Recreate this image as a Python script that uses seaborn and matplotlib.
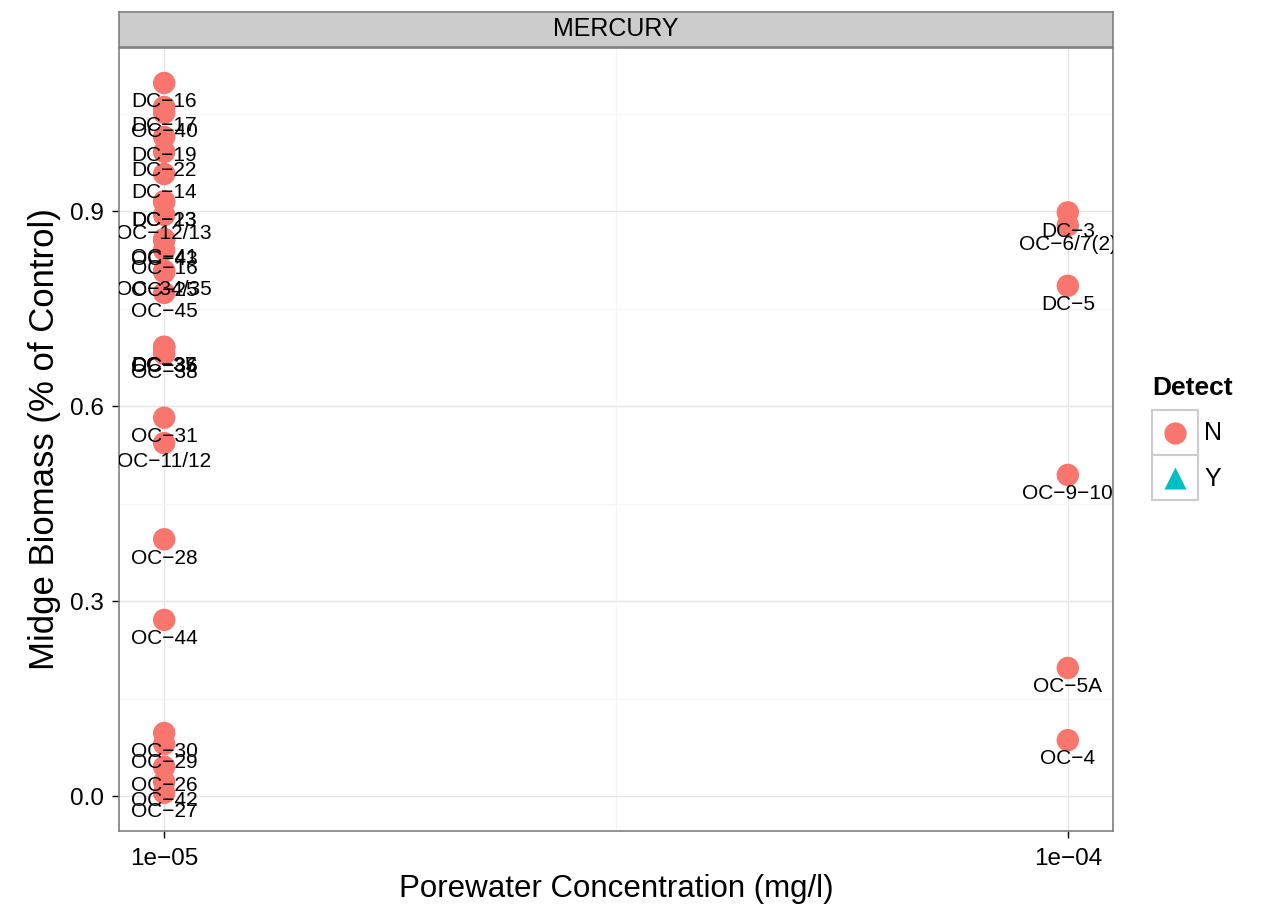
import matplotlib
matplotlib.use("Agg")
import matplotlib.pyplot as plt
import matplotlib.ticker as tic
from matplotlib.patches import Rectangle
from matplotlib.lines import Line2D
import seaborn as sns
import pandas as pd

# station labels, porewater concentration (mg/l), midge biomass, detect flag
stations = ["DC-16", "DC-17", "OC-40", "DC-19", "DC-22", "DC-14", "DC-23", "DC-13",
            "OC-12/13", "OC-41", "OC-43", "OC-16", "OC-34/35", "OC-25", "OC-45",
            "DC-35", "DC-37", "OC-36", "OC-38", "OC-31", "OC-11/12", "OC-28", "OC-44",
            "OC-30", "OC-29", "OC-26", "OC-42", "OC-27",
            "DC-3", "OC-6/7(2)", "DC-5", "OC-9-10", "OC-5A", "OC-4"]
concentration = [1e-05] * 28 + [1e-04] * 6
biomass = [1.097, 1.060, 1.051, 1.014, 0.991, 0.957, 0.915, 0.914,
           0.894, 0.857, 0.855, 0.840, 0.808, 0.806, 0.774,
           0.691, 0.691, 0.689, 0.680, 0.582, 0.543, 0.395, 0.271,
           0.097, 0.080, 0.045, 0.022, 0.005,
           0.898, 0.878, 0.785, 0.494, 0.197, 0.086]
detect = ["N"] * 34
detect_levels = ["N", "Y"]
detect_colors = {"N": "#F8766D", "Y": "#00BFC4"}
detect_markers = {"N": "o", "Y": "^"}

df = pd.DataFrame({"Station": stations, "Conc": concentration,
                   "Biomass": biomass, "Detect": detect})

sns.set_style("white")
plt.rcParams["font.family"] = ["Liberation Sans", "DejaVu Sans"]
plt.rcParams["text.color"] = "black"
plt.rcParams["axes.labelcolor"] = "black"

W, H = 1263, 914
fig = plt.figure(figsize=(W / 100, H / 100), dpi=100)

# panel position in pixels
left, right, top, bottom = 119, 1113, 48, 831
ax = fig.add_axes([left / W, 1 - bottom / H, (right - left) / W, (bottom - top) / H])

sns.scatterplot(data=df, x="Conc", y="Biomass", hue="Detect", style="Detect",
                palette=detect_colors, markers=detect_markers, s=260,
                edgecolor="none", legend=False, ax=ax, zorder=3)

# labels under each point, clipped to the panel
for _, row in df.iterrows():
    ax.annotate(row["Station"].replace("-", "\u2212"), (row["Conc"], row["Biomass"]),
                xytext=(0, -13.5), textcoords="offset points", ha="center", va="center",
                fontsize=15, color="black", annotation_clip=False, clip_on=True, zorder=4)

ax.set_xscale("log")
ax.set_xlim(10 ** -5.05, 10 ** -3.95)
ax.set_ylim(-0.0538, 1.1508)
ax.xaxis.set_major_locator(tic.FixedLocator([1e-05, 1e-04]))
ax.xaxis.set_minor_locator(tic.FixedLocator([10 ** -4.5]))
ax.xaxis.set_major_formatter(tic.FixedFormatter(["1e\u221205", "1e\u221204"]))
ax.xaxis.set_minor_formatter(tic.NullFormatter())
ax.yaxis.set_major_locator(tic.FixedLocator([0.0, 0.3, 0.6, 0.9]))
ax.yaxis.set_minor_locator(tic.FixedLocator([0.15, 0.45, 0.75, 1.05]))
ax.yaxis.set_major_formatter(tic.FormatStrFormatter("%.1f"))

ax.grid(True, which="major", color="#E5E5E5", linewidth=1.0, zorder=0)
ax.grid(True, which="minor", color="#F5F5F5", linewidth=1.0, zorder=0)
ax.set_axisbelow(True)
ax.tick_params(axis="both", which="major", length=5, width=1, color="black",
               labelsize=17.5, labelcolor="black", direction="out",
               bottom=True, left=True)
ax.tick_params(axis="x", which="major", pad=7)
ax.tick_params(axis="y", which="major", pad=6)
ax.tick_params(axis="both", which="minor", length=0)
for sp in ax.spines.values():
    sp.set_color("#7F7F7F")
    sp.set_linewidth(1.2)

ax.set_xlabel("Porewater Concentration (mg/l)", fontsize=22.5, labelpad=3)
ax.set_ylabel("Midge Biomass (% of Control)", fontsize=25, labelpad=6)

# facet strip
strip = fig.add_axes([left / W, 1 - 47 / H, (right - left) / W, 35 / H])
strip.set_facecolor("#CCCCCC")
strip.set_xticks([])
strip.set_yticks([])
for sp in strip.spines.values():
    sp.set_color("#7F7F7F")
    sp.set_linewidth(1.2)
strip.text(0.5, 0.5, "MERCURY", ha="center", va="center", fontsize=18,
           transform=strip.transAxes)

# legend drawn by hand so the empty Y level still shows
leg = fig.add_axes([1145 / W, 1 - 510 / H, 115 / W, 140 / H])
leg.set_xlim(1145, 1260)
leg.set_ylim(510, 370)
leg.axis("off")
leg.text(1152, 388, "Detect", fontsize=19, fontweight="bold", ha="left", va="center")
for i, lvl in enumerate(detect_levels):
    y0 = 410 + i * 45
    leg.add_patch(Rectangle((1152, y0), 46, 45, facecolor="white",
                            edgecolor="#CCCCCC", linewidth=1.5))
    leg.add_line(Line2D([1175], [y0 + 22.5], marker=detect_markers[lvl], markersize=16,
                        color=detect_colors[lvl], markeredgecolor="none", linestyle="none"))
    leg.text(1204, y0 + 23.5, lvl, fontsize=18, ha="left", va="center")

fig.savefig("out.png", dpi=100)
